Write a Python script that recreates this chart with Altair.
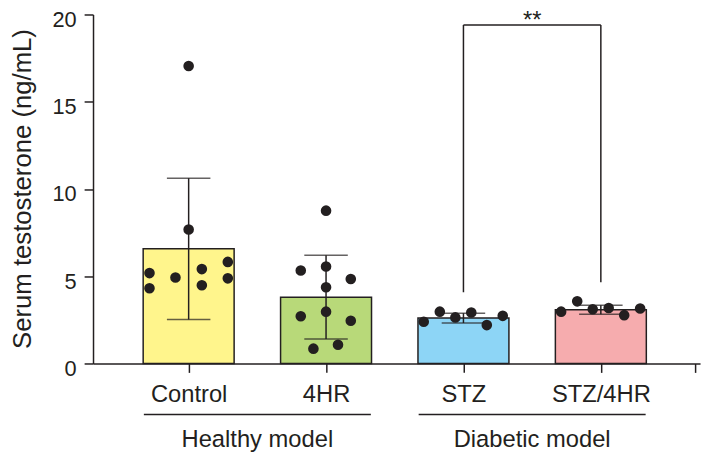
import altair as alt
import pandas as pd

# ---- data ----
groups = ["Control", "4HR", "STZ", "STZ/4HR"]
positions = [1, 2, 3, 4]
means = [6.57, 3.80, 2.60, 3.08]
sds = [4.05, 2.40, 0.28, 0.26]
colors = ["#FFF58C", "#B8D979", "#8DD5F6", "#F6ACAE"]

control_vals = [17.05, 7.68, 5.18, 4.31, 4.93, 5.41, 4.48, 5.82, 4.88]
control_offsets = [0, 0, -0.285, -0.285, -0.096, 0.096, 0.096, 0.285, 0.285]
hr_vals = [8.76, 5.33, 5.56, 4.84, 4.37, 2.71, 2.97, 2.45, 0.85, 1.07]
hr_offsets = [0, -0.184, 0, 0.18, 0, -0.184, 0, 0.18, -0.092, 0.087]
stz_vals = [2.39, 2.97, 2.64, 2.92, 2.20, 2.73]
stz_offsets = [-0.289, -0.172, -0.059, 0.057, 0.17, 0.286]
stzhr_vals = [2.97, 3.56, 3.11, 3.18, 2.77, 3.15]
stzhr_offsets = [-0.289, -0.172, -0.059, 0.057, 0.17, 0.286]

bracket_x = [3, 4]
bracket_top = 19.4
bracket_bottoms = [4.08, 4.65]
sig_label = "**"

model_labels = ["Healthy model", "Diabetic model"]
model_start = [0.674, 2.674]
model_end = [2.326, 4.326]
model_center = [1.5, 3.5]
model_line_y = -2.93
model_text_y = -4.8

x_domain = [0.34, 4.686]
y_domain = [0, 20]

INK = "#231F20"
FONT = "Liberation Sans"

# ---- tables ----
bars = pd.DataFrame({"group": groups, "pos": positions, "mean": means, "sd": sds})
bars["lo"] = bars["mean"] - bars["sd"]
bars["hi"] = bars["mean"] + bars["sd"]

pts = []
for g, p, vals, offs in zip(groups, positions,
                            [control_vals, hr_vals, stz_vals, stzhr_vals],
                            [control_offsets, hr_offsets, stz_offsets, stzhr_offsets]):
    for v, o in zip(vals, offs):
        pts.append({"group": g, "x": p + o, "value": v})
pts = pd.DataFrame(pts)

bracket_v = pd.DataFrame({"x": bracket_x, "y": bracket_bottoms, "y2": [bracket_top] * 2})
bracket_h = pd.DataFrame({"x": [bracket_x[0]], "x2": [bracket_x[1]], "y": [bracket_top],
                          "label": [sig_label], "xc": [sum(bracket_x) / 2]})
models = pd.DataFrame({"label": model_labels, "x": model_start, "x2": model_end,
                       "xc": model_center, "ly": [model_line_y] * 2, "ty": [model_text_y] * 2})

label_expr = ("datum.value == 1 ? 'Control' : datum.value == 2 ? '4HR' : "
              "datum.value == 3 ? 'STZ' : datum.value == 4 ? 'STZ/4HR' : ''")

xscale = alt.Scale(domain=x_domain, nice=False, zero=False)
yscale = alt.Scale(domain=y_domain, nice=False)

x_axis = alt.Axis(values=[1, 2, 3, 4, x_domain[1]], labelExpr=label_expr, title=None,
                  tickSize=9, labelPadding=10, grid=False, labelFontSize=24)
y_axis = alt.Axis(values=[0, 5, 10, 15, 20], title="Serum testosterone (ng/mL)",
                  tickSize=9, labelPadding=8, labelOffset=5, grid=False, labelFontSize=22,
                  titleFontSize=26, titleFontWeight="normal", titleX=-63, titleY=176,
                  titleAngle=-90, titleAlign="center", titleBaseline="alphabetic")

bar_layer = alt.Chart(bars).mark_bar(size=92, stroke=INK, strokeWidth=1.5).encode(
    x=alt.X("pos:Q", scale=xscale, axis=x_axis),
    y=alt.Y("mean:Q", scale=yscale, axis=y_axis),
    color=alt.Color("group:N", scale=alt.Scale(domain=groups, range=colors), legend=None),
)

err = alt.Chart(bars).mark_rule(color=INK, strokeWidth=1.5).encode(
    x=alt.X("pos:Q", scale=xscale), y=alt.Y("lo:Q", scale=yscale), y2="hi:Q")
cap_lo = alt.Chart(bars).mark_tick(color=INK, orient="horizontal", size=44, thickness=1.5).encode(
    x=alt.X("pos:Q", scale=xscale), y=alt.Y("lo:Q", scale=yscale))
cap_hi = alt.Chart(bars).mark_tick(color=INK, orient="horizontal", size=44, thickness=1.5).encode(
    x=alt.X("pos:Q", scale=xscale), y=alt.Y("hi:Q", scale=yscale))

points = alt.Chart(pts).mark_circle(size=115, color=INK, opacity=1).encode(
    x=alt.X("x:Q", scale=xscale), y=alt.Y("value:Q", scale=yscale))

br_v = alt.Chart(bracket_v).mark_rule(color=INK, strokeWidth=1.5).encode(
    x=alt.X("x:Q", scale=xscale), y=alt.Y("y:Q", scale=yscale), y2="y2:Q")
br_h = alt.Chart(bracket_h).mark_rule(color=INK, strokeWidth=1.5).encode(
    x=alt.X("x:Q", scale=xscale), x2="x2:Q", y=alt.Y("y:Q", scale=yscale))
br_t = alt.Chart(bracket_h).mark_text(font=FONT, fontSize=24, color=INK, baseline="alphabetic",
                                      align="center", dy=3).encode(
    x=alt.X("xc:Q", scale=xscale), y=alt.Y("y:Q", scale=yscale), text="label:N")

mod_line = alt.Chart(models).mark_rule(color=INK, strokeWidth=1.5).encode(
    x=alt.X("x:Q", scale=xscale), x2="x2:Q", y=alt.Y("ly:Q", scale=yscale))
mod_text = alt.Chart(models).mark_text(font=FONT, fontSize=24, color=INK, baseline="alphabetic",
                                       align="center").encode(
    x=alt.X("xc:Q", scale=xscale), y=alt.Y("ty:Q", scale=yscale), text="label:N")

chart = alt.layer(bar_layer, err, cap_lo, cap_hi, points, br_v, br_h, br_t, mod_line, mod_text).properties(
    width=614, height=353,
    autosize=alt.AutoSizeParams(type="none"),
    padding={"left": 86, "top": 4, "right": 4, "bottom": 90},
).configure_view(stroke=None).configure_axis(
    domainColor=INK, domainWidth=1.5, tickColor=INK, tickWidth=1.5,
    labelColor=INK, titleColor=INK, labelFont=FONT, titleFont=FONT,
)

chart.save("out.html", embed_options={"renderer": "svg", "actions": False})
